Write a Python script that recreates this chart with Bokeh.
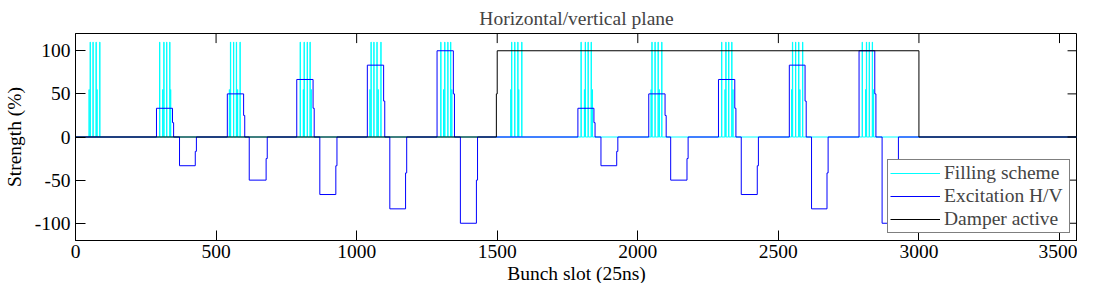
from bokeh.plotting import figure
from bokeh.models import Range1d, FixedTicker, Legend, LegendItem, Title
from bokeh.embed import file_html
from bokeh.resources import INLINE

# ---------------- data ----------------
x_ticks = [0, 500, 1000, 1500, 2000, 2500, 3000, 3500]
y_ticks = [-100, -50, 0, 50, 100]
y_tick_labels = ["-100", "-50", "0", "50", "100"]

# Filling scheme: bunch slots with full (110) and half (55) height
fill_tall = [52, 62, 73, 86,
             299, 314, 324, 335,
             551, 562, 572, 585,
             799, 813, 824, 834,
             1051, 1061, 1072, 1086,
             1299, 1313, 1324, 1334,
             1551, 1562, 1573, 1587,
             1798, 1813, 1823, 1834,
             2050, 2061, 2072, 2085,
             2298, 2313, 2323, 2334,
             2550, 2561, 2572, 2586,
             2798, 2813, 2823, 2834]
fill_short = [48, 76, 310, 338, 547, 576, 810, 838, 1047, 1076, 1309, 1338,
              1548, 1576, 1810, 1838, 2047, 2076, 2310, 2338, 2547, 2576, 2810, 2838]
fill_tall_h = 110
fill_short_h = 55

# Excitation H/V: positive block then negative block per bunch group
exc_amp = [33.3, 50, 66.7, 83.3, 100, 33.3, 50, 66.7, 83.3, 100]
exc_pos_start = [288, 540, 787, 1038, 1286, 1787, 2039, 2287, 2539, 2787]
exc_pos_end = [345, 598, 845, 1096, 1344, 1844, 2097, 2345, 2595, 2843]
exc_neg_start = [370, 618, 869, 1118, 1369, 1869, 2117, 2368, 2618, 2869]
exc_neg_end = [426, 678, 926, 1174, 1426, 1925, 2175, 2425, 2673, 2923]
exc_tail = 4          # slots at half amplitude at the end of each block

# Damper active
damper_x = [0, 1497, 1500, 3000, 3564]
damper_y = [0, 50, 100, 0, 0]

n_slots = 3564
y_min, y_max = -120, 120

# ---------------- build step series ----------------
bunches = sorted([(s, fill_tall_h) for s in fill_tall] + [(s, fill_short_h) for s in fill_short])
fx, fy = [0], [0]
for s, h in bunches:
    fx += [s, s + 1]
    fy += [h, 0]
fx.append(n_slots)
fy.append(0)

ex, ey = [0], [0]
for a, ps, pe, ns, ne in zip(exc_amp, exc_pos_start, exc_pos_end, exc_neg_start, exc_neg_end):
    ex += [ps, pe, pe + exc_tail, ns, ne, ne + exc_tail]
    ey += [a, a / 2, 0, -a, -a / 2, 0]
ex.append(n_slots)
ey.append(0)

FONT = "Liberation Serif"
FS = "19.5px"
W, H = 1077, 283
BL, BR, BT, BB = 67, 0, 25, 0
TICK = 10

p = figure(width=W, height=H, x_range=Range1d(0, n_slots), y_range=Range1d(y_min, y_max),
           output_backend="svg", toolbar_location=None, title="Horizontal/vertical plane",
           min_border_left=BL, min_border_right=BR, min_border_top=BT, min_border_bottom=BB)
p.title.text_font = FONT
p.title.text_font_size = FS
p.title.text_font_style = "normal"
p.title.align = "center"
p.title.standoff = 10
p.grid.visible = False
p.outline_line_color = "black"
p.outline_line_alpha = 1
p.background_fill_color = "white"
p.border_fill_color = "white"

r_fill = p.step(fx, fy, mode="after", line_color="#00FFFF", line_width=1)
r_exc = p.step(ex, ey, mode="after", line_color="#0000FF", line_width=1)
r_dmp = p.step(damper_x, damper_y, mode="after", line_color="black", line_width=1)

# mirrored inward ticks on the top and right edges (box style axes)
fw, fh = 1007, 216
tx = TICK * n_slots / fw
ty = TICK * (y_max - y_min) / fh
p.segment(x0=x_ticks, y0=[y_max] * len(x_ticks), x1=x_ticks, y1=[y_max - ty] * len(x_ticks),
          line_color="black", line_width=1)
p.segment(x0=[n_slots] * len(y_ticks), y0=y_ticks, x1=[n_slots - tx] * len(y_ticks), y1=y_ticks,
          line_color="black", line_width=1)

def style_axis(ax, ticks):
    ax.ticker = FixedTicker(ticks=ticks)
    ax.major_tick_in = TICK
    ax.major_tick_out = 0
    ax.minor_tick_in = 0
    ax.minor_tick_out = 0
    ax.major_tick_line_color = "black"
    ax.axis_line_color = "black"
    ax.major_label_text_font = FONT
    ax.major_label_text_font_size = FS
    ax.major_label_text_color = "black"
    ax.axis_label_text_font = FONT
    ax.axis_label_text_font_size = FS
    ax.axis_label_text_font_style = "normal"
    ax.axis_label_text_color = "black"

xa = p.xaxis[0]
style_axis(xa, x_ticks)
xa.axis_label = None
xa.major_label_standoff = 4

ya = p.yaxis[0]
style_axis(ya, y_ticks)
ya.axis_label = "Strength (%)"
ya.major_label_overrides = {t: l for t, l in zip(y_ticks, y_tick_labels)}
ya.major_label_standoff = 5
ya.axis_label_standoff = 7

xt = Title(text="Bunch slot (25ns)", align="center", text_font=FONT, text_font_size=FS,
           text_font_style="normal", text_color="black", standoff=0)
p.add_layout(xt, "below")

legend = Legend(items=[LegendItem(label="Filling scheme", renderers=[r_fill]),
                       LegendItem(label="Excitation H/V", renderers=[r_exc]),
                       LegendItem(label="Damper active", renderers=[r_dmp])],
                location="bottom_right")
legend.margin = 7
legend.padding = 2
legend.spacing = 1
legend.glyph_width = 50
legend.glyph_height = 20
legend.label_height = 20
legend.label_standoff = 4
legend.label_width = 123
legend.label_text_font = FONT
legend.label_text_font_size = FS
legend.border_line_color = "black"
legend.border_line_width = 1
legend.background_fill_color = "white"
legend.background_fill_alpha = 1
p.add_layout(legend, "center")

open("out.html", "w").write(file_html(p, INLINE))
